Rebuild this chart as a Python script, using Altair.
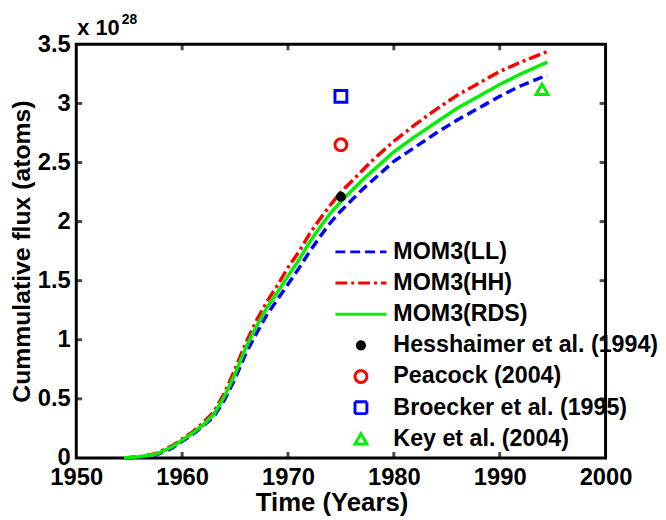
import altair as alt
import pandas as pd

# ---- data ----
years = [1954.5, 1956, 1957.5, 1959, 1960, 1961, 1962, 1963, 1964, 1965, 1966,
         1967, 1968, 1969, 1970, 1971, 1972, 1973, 1974, 1975, 1976, 1977, 1978,
         1980, 1982, 1984, 1986, 1988, 1990, 1992, 1994.5]
mom3_ll = [0, 0.005, 0.025, 0.08, 0.14, 0.20, 0.27, 0.35, 0.49, 0.67, 0.88,
           1.05, 1.21, 1.34, 1.47, 1.60, 1.74, 1.87, 1.99, 2.09, 2.18, 2.27, 2.35,
           2.51, 2.63, 2.75, 2.86, 2.96, 3.06, 3.15, 3.24]
mom3_hh = [0, 0.01, 0.035, 0.10, 0.16, 0.22, 0.30, 0.39, 0.55, 0.75, 0.97,
           1.16, 1.32, 1.46, 1.61, 1.74, 1.89, 2.02, 2.14, 2.25, 2.34, 2.43, 2.52,
           2.68, 2.82, 2.95, 3.07, 3.17, 3.27, 3.35, 3.44]
mom3_rds = [0, 0.01, 0.03, 0.09, 0.15, 0.21, 0.28, 0.37, 0.52, 0.71, 0.93,
            1.11, 1.27, 1.40, 1.54, 1.67, 1.82, 1.95, 2.07, 2.17, 2.26, 2.35, 2.43,
            2.59, 2.72, 2.84, 2.96, 3.06, 3.16, 3.25, 3.35]

line_names = ["MOM3(LL)", "MOM3(HH)", "MOM3(RDS)"]
obs_names = ["Hesshaimer et al. (1994)", "Peacock (2004)",
             "Broecker et al. (1995)", "Key et al. (2004)"]
obs_years = [1975, 1975, 1975, 1994]
obs_values = [2.21, 2.65, 3.06, 3.12]

x_ticks = [1950, 1960, 1970, 1980, 1990, 2000]
y_ticks = [0, 0.5, 1, 1.5, 2, 2.5, 3, 3.5]

# ---- tables ----
rows = []
for name, vals in zip(line_names, [mom3_ll, mom3_hh, mom3_rds]):
    for yr, v in zip(years, vals):
        rows.append({"series": name, "year": yr, "value": v})
lines_df = pd.DataFrame(rows)
obs_df = pd.DataFrame({"series": obs_names, "year": obs_years, "value": obs_values})
xt_df = pd.DataFrame({"year": x_ticks[1:-1]})
yt_df = pd.DataFrame({"value": y_ticks[1:-1]})

domain = line_names + obs_names
colors = ["#0000ff", "#ff0000", "#00f000", "#000000", "#ff0000", "#0000ff", "#00f000"]
dashes = [[10, 5], [12, 4, 3, 4], [1, 0], [1, 0], [1, 0], [1, 0], [1, 0]]
line_sym = "M-4.3,0H4.3"
dot_sym = "M-0.6,0A0.6,0.6 0 1,0 0.6,0A0.6,0.6 0 1,0 -0.6,0Z"
shapes = [line_sym, line_sym, line_sym, dot_sym, "circle", "square", "triangle-up"]
fills = ["transparent", "transparent", "transparent", "#000000",
         "transparent", "transparent", "transparent"]

FONT = "Liberation Sans"

legend = alt.Legend(title=None, orient="none", legendX=276, legendY=198,
                    labelFont=FONT, labelFontSize=23.5, labelFontWeight="bold",
                    labelColor="black", labelOffset=21, rowPadding=6.5,
                    padding=0, symbolSize=144, symbolStrokeWidth=3,
                    labelLimit=400)

xscale = alt.Scale(domain=[1950, 2000], nice=False, zero=False)
yscale = alt.Scale(domain=[0, 3.5], nice=False)
xaxis = alt.Axis(values=x_ticks, format="d", title="Time (Years)", ticks=False,
                 domain=False, grid=False, labelPadding=8, titlePadding=0,
                 labelFlush=False, titleX=258)
yaxis = alt.Axis(values=y_ticks, labelExpr="datum.value + ''",
                 title="Cummulative flux (atoms)", ticks=False, domain=False,
                 grid=False, labelPadding=6, titlePadding=3, labelFlush=False,
                 titleFontSize=25)

X = alt.X("year:Q", scale=xscale, axis=xaxis)
Y = alt.Y("value:Q", scale=yscale, axis=yaxis)

color = alt.Color("series:N", scale=alt.Scale(domain=domain, range=colors),
                  legend=legend, sort=domain)
dash = alt.StrokeDash("series:N", scale=alt.Scale(domain=domain, range=dashes),
                      legend=legend, sort=domain)
shape = alt.Shape("series:N", scale=alt.Scale(domain=domain, range=shapes),
                  legend=legend, sort=domain)
fill = alt.Fill("series:N", scale=alt.Scale(domain=domain, range=fills),
                legend=legend, sort=domain)

lines = alt.Chart(lines_df).mark_line(strokeWidth=3.5).encode(
    x=X, y=Y, color=color, strokeDash=dash, detail="series:N"
)
points = alt.Chart(obs_df).mark_point(filled=False, size=144, strokeWidth=3,
                                      opacity=1).encode(
    x=X, y=Y, color=color, shape=shape, fill=fill
)

tick_kw = dict(color="black", thickness=3, size=6)
xt_bottom = alt.Chart(xt_df).mark_tick(orient="vertical", yOffset=-3, **tick_kw).encode(
    x=X, y=alt.datum(0))
xt_top = alt.Chart(xt_df).mark_tick(orient="vertical", yOffset=3, **tick_kw).encode(
    x=X, y=alt.datum(3.5))
yt_left = alt.Chart(yt_df).mark_tick(orient="horizontal", xOffset=3, **tick_kw).encode(
    y=Y, x=alt.datum(1950))
yt_right = alt.Chart(yt_df).mark_tick(orient="horizontal", xOffset=-3, **tick_kw).encode(
    y=Y, x=alt.datum(2000))

exp_base = alt.Chart(pd.DataFrame({"t": ["x 10"]})).mark_text(
    font=FONT, fontSize=22, fontWeight="bold", align="left", baseline="alphabetic",
    color="black").encode(x=alt.value(1), y=alt.value(-9), text="t:N")
exp_pow = alt.Chart(pd.DataFrame({"t": ["28"]})).mark_text(
    font=FONT, fontSize=14, fontWeight="bold", align="left", baseline="alphabetic",
    color="black").encode(x=alt.value(46), y=alt.value(-21), text="t:N")

chart = alt.layer(
    lines.transform_filter(alt.datum.series != "MOM3(RDS)"),
    lines.transform_filter(alt.datum.series == "MOM3(RDS)"),
    points, xt_bottom, xt_top, yt_left, yt_right, exp_base, exp_pow
).properties(
    width=535, height=418,
    autosize=alt.AutoSizeParams(type="none"),
    padding={"left": 69, "top": 34, "right": 53, "bottom": 58},
    background="white",
).configure_view(
    stroke="black", strokeWidth=3
).configure_axis(
    labelFont=FONT, labelFontSize=24, labelFontWeight="bold", labelColor="black",
    titleFont=FONT, titleFontSize=26, titleFontWeight="bold", titleColor="black",
)

chart.save("out.html", embed_options={"renderer": "svg", "actions": False})
